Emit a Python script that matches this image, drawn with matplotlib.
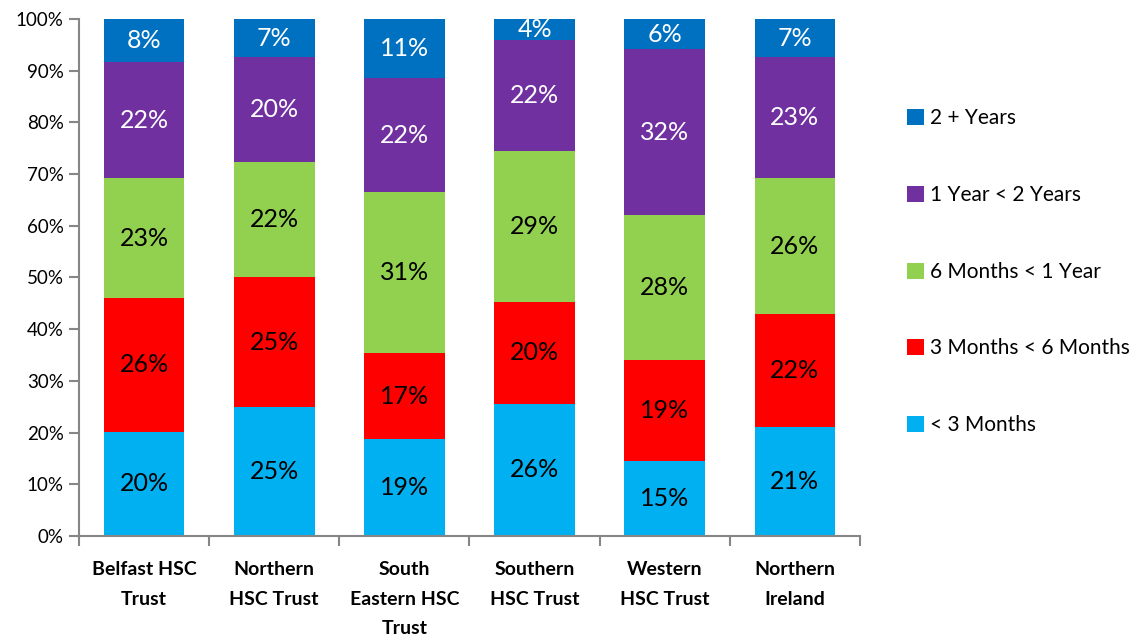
import matplotlib.pyplot as plt
import numpy as np
from matplotlib.patches import Patch

plt.rcParams['font.family'] = ['Lato', 'DejaVu Sans']

trusts = ["Belfast HSC\nTrust", "Northern\nHSC Trust", "South\nEastern HSC\nTrust",
          "Southern\nHSC Trust", "Western\nHSC Trust", "Northern\nIreland"]

# percentage of people in each waiting band
under_3m = [20.2, 24.9, 18.6, 25.6, 14.6, 21.0]
m3_to_6m = [25.8, 25.1, 16.6, 19.7, 19.4, 21.8]
m6_to_1y = [23.2, 22.3, 31.0, 29.2, 28.1, 26.4]
y1_to_2y = [22.4, 20.3, 22.0, 21.6, 32.0, 23.3]
over_2y = [8.4, 7.4, 11.4, 4.0, 5.9, 7.4]

series = [under_3m, m3_to_6m, m6_to_1y, y1_to_2y, over_2y]
names = ["< 3 Months", "3 Months < 6 Months", "6 Months < 1 Year",
         "1 Year < 2 Years", "2 + Years"]
colors = ["#00B0F0", "#FF0000", "#92D050", "#7030A0", "#0070C0"]
text_colors = ["black", "black", "black", "white", "white"]

data = np.array(series)
totals = data.sum(axis=0)
shares = data / totals * 100

fig = plt.figure(figsize=(11.43, 6.41), dpi=100)
ax = fig.add_axes([0.0691, 0.1638, 0.6833, 0.8066])

x = np.arange(len(trusts))
bottom = np.zeros(len(trusts))
for vals, raw, col, tcol in zip(shares, data, colors, text_colors):
    ax.bar(x, vals, width=0.62, bottom=bottom, color=col, linewidth=0)
    for xi, b, v, r in zip(x, bottom, vals, raw):
        ax.text(xi, b + v / 2, f"{r:.0f}%", ha='center', va='center',
                fontsize=18, color=tcol)
    bottom += vals

ax.set_xlim(-0.5, 5.5)
ax.set_ylim(0, 100)
ax.set_yticks(np.arange(0, 101, 10))
ax.set_yticklabels([f"{t}%" for t in range(0, 101, 10)], fontsize=13.5)
ax.set_xticks(x)
ax.set_xticklabels(trusts, fontsize=14, fontweight='bold', linespacing=1.9, va='top')
ax.set_xticks(np.arange(-0.5, 6, 1), minor=True)
ax.tick_params(axis='x', which='major', length=0, pad=18)
ax.tick_params(axis='x', which='minor', length=7, color='#868686', width=1.5)
ax.tick_params(axis='y', length=7, color='#868686', width=1.5, pad=4)

for side in ['top', 'right']:
    ax.spines[side].set_visible(False)
for side in ['left', 'bottom']:
    ax.spines[side].set_color('#868686')
    ax.spines[side].set_linewidth(1.5)

handles = [Patch(facecolor=c, edgecolor='none') for c in colors][::-1]
fig.legend(handles, names[::-1], loc='upper left', bbox_to_anchor=(0.777, 0.860),
           frameon=False, fontsize=15, handlelength=0.8, handleheight=0.8,
           handletextpad=0.3, labelspacing=2.72)

fig.savefig("out.png", dpi=100)
